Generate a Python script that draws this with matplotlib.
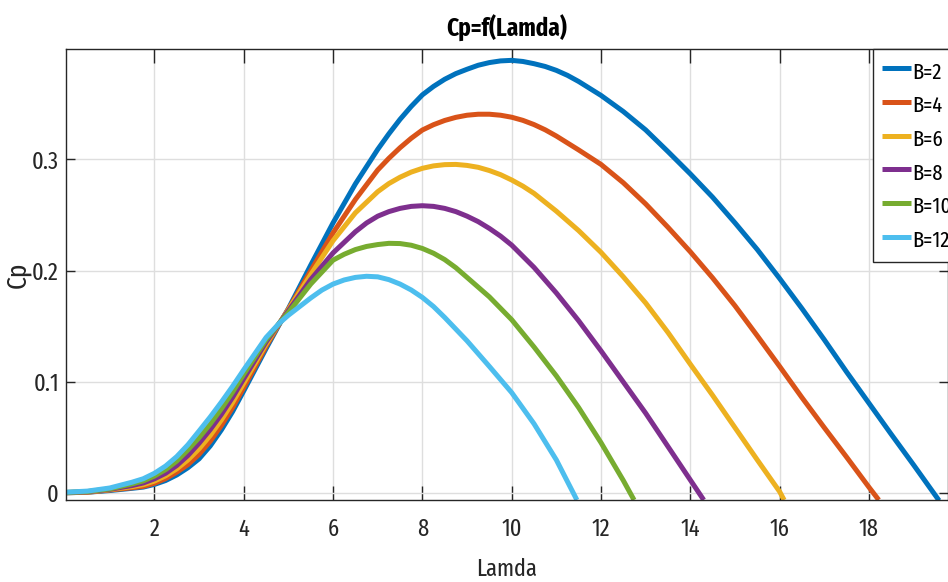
import matplotlib
matplotlib.use("Agg")
import matplotlib.pyplot as plt
from matplotlib import font_manager as fm

# lambda values (x) and Cp values, one pair of lists per blade count
lam_b2 = [0.02, 0.5, 1, 1.5, 1.75, 2, 2.25, 2.5, 2.75, 3, 3.25, 3.5, 3.75, 4, 4.5, 4.8, 5, 5.5,
          6, 6.5, 7, 7.25, 7.5, 7.75, 8, 8.25, 8.5, 8.75, 9, 9.25, 9.5, 9.75, 10, 10.25, 10.5,
          10.75, 11, 11.25, 11.5, 12, 12.5, 13, 13.5, 14, 14.5, 15, 15.5, 16, 16.5, 17, 17.5,
          18, 18.5, 19, 19.57]
cp_b2 = [0.0005, 0.001, 0.0025, 0.0045, 0.0056, 0.008, 0.0115, 0.0165, 0.023, 0.031, 0.0426,
         0.057, 0.0734, 0.092, 0.130, 0.152, 0.166, 0.205, 0.243, 0.278, 0.309, 0.323, 0.336,
         0.3476, 0.358, 0.3656, 0.372, 0.3771, 0.381, 0.3846, 0.387, 0.3885, 0.389, 0.388, 0.386,
         0.3835, 0.380, 0.3755, 0.370, 0.3575, 0.343, 0.3265, 0.307, 0.287, 0.266, 0.243, 0.219,
         0.193, 0.166, 0.138, 0.109, 0.081, 0.053, 0.0255, -0.0065]

lam_b4 = [0.02, 0.5, 1, 1.5, 1.75, 2, 2.25, 2.5, 2.75, 3, 3.25, 3.5, 3.75, 4, 4.5, 4.8, 5, 5.5,
          6, 6.5, 7, 7.25, 7.5, 7.75, 8, 8.25, 8.5, 8.75, 9, 9.25, 9.5, 9.75, 10, 10.25, 10.5,
          10.75, 11, 11.5, 12, 12.5, 13, 13.5, 14, 14.5, 15, 15.5, 16, 16.5, 17, 17.5, 18, 18.22]
cp_b4 = [0.0005, 0.001, 0.003, 0.005, 0.0062, 0.009, 0.0132, 0.019, 0.0258, 0.035, 0.0468,
         0.061, 0.077, 0.095, 0.132, 0.1525, 0.1655, 0.200, 0.234, 0.264, 0.2905, 0.301, 0.3105,
         0.319, 0.3264, 0.3312, 0.335, 0.3378, 0.3397, 0.3406, 0.3406, 0.3397, 0.3379, 0.3351,
         0.3313, 0.3266, 0.321, 0.3085, 0.2955, 0.279, 0.260, 0.239, 0.217, 0.1935, 0.1685,
         0.1415, 0.114, 0.086, 0.059, 0.0325, 0.0055, -0.006]

lam_b6 = [0.02, 0.5, 1, 1.5, 1.75, 2, 2.25, 2.5, 2.75, 3, 3.25, 3.5, 3.75, 4, 4.5, 4.8, 5, 5.5,
          6, 6.5, 7, 7.25, 7.5, 7.75, 8, 8.25, 8.5, 8.75, 9, 9.25, 9.5, 9.75, 10, 10.25, 10.5,
          11, 11.5, 12, 12.5, 13, 13.5, 14, 14.5, 15, 15.5, 16, 16.1]
cp_b6 = [0.0006, 0.0012, 0.0033, 0.006, 0.0078, 0.011, 0.0157, 0.022, 0.030, 0.040, 0.052,
         0.066, 0.0816, 0.099, 0.134, 0.153, 0.165, 0.1965, 0.227, 0.252, 0.271, 0.2783, 0.284,
         0.2886, 0.292, 0.2942, 0.2953, 0.2955, 0.2946, 0.2929, 0.290, 0.2863, 0.2815, 0.276,
         0.2695, 0.2535, 0.236, 0.2165, 0.1945, 0.171, 0.1445, 0.116, 0.088, 0.059, 0.030,
         0.0015, -0.006]

lam_b8 = [0.02, 0.5, 1, 1.5, 1.75, 2, 2.25, 2.5, 2.75, 3, 3.25, 3.5, 3.75, 4, 4.5, 4.8, 5, 5.5,
          6, 6.5, 6.75, 7, 7.25, 7.5, 7.75, 8, 8.25, 8.5, 8.75, 9, 9.25, 9.5, 9.75, 10, 10.5, 11,
          11.5, 12, 12.5, 13, 13.5, 14, 14.3]
cp_b8 = [0.0007, 0.0014, 0.0036, 0.007, 0.0093, 0.013, 0.018, 0.025, 0.034, 0.045, 0.0573,
         0.071, 0.0862, 0.103, 0.136, 0.153, 0.164, 0.192, 0.216, 0.235, 0.2429, 0.249, 0.2531,
         0.256, 0.2578, 0.2584, 0.2578, 0.256, 0.2531, 0.249, 0.2441, 0.238, 0.2311, 0.223,
         0.203, 0.180, 0.155, 0.128, 0.100, 0.072, 0.042, 0.012, -0.006]

lam_b10 = [0.02, 0.5, 1, 1.5, 1.75, 2, 2.25, 2.5, 2.75, 3, 3.25, 3.5, 3.75, 4, 4.5, 4.8, 5, 5.5,
           6, 6.25, 6.5, 6.75, 7, 7.25, 7.5, 7.75, 8, 8.25, 8.5, 8.75, 9, 9.5, 10, 10.5, 11,
           11.5, 12, 12.5, 12.74]
cp_b10 = [0.0008, 0.0016, 0.004, 0.0085, 0.0112, 0.0155, 0.0213, 0.029, 0.039, 0.050, 0.0624,
          0.076, 0.0909, 0.107, 0.138, 0.153, 0.1625, 0.188, 0.2095, 0.2148, 0.219, 0.2218,
          0.2235, 0.2246, 0.2244, 0.2229, 0.220, 0.2157, 0.210, 0.2027, 0.194, 0.1765, 0.156,
          0.1315, 0.1055, 0.077, 0.0455, 0.0115, -0.006]

lam_b12 = [0.02, 0.5, 1, 1.5, 1.75, 2, 2.25, 2.5, 2.75, 3, 3.25, 3.5, 3.75, 4, 4.5, 4.8, 5, 5.5,
           5.75, 6, 6.25, 6.5, 6.75, 7, 7.25, 7.5, 7.75, 8, 8.25, 8.5, 9, 9.5, 10, 10.5, 11,
           11.46]
cp_b12 = [0.001, 0.002, 0.0048, 0.010, 0.0131, 0.018, 0.0245, 0.033, 0.0436, 0.056, 0.0686,
          0.082, 0.0961, 0.111, 0.140, 0.153, 0.160, 0.1755, 0.1826, 0.188, 0.1917, 0.194, 0.195,
          0.1945, 0.192, 0.188, 0.1827, 0.176, 0.1678, 0.158, 0.137, 0.114, 0.0905, 0.0625,
          0.030, -0.006]

labels = ["B=2", "B=4", "B=6", "B=8", "B=10", "B=12"]
colors = ["#0072BD", "#D95319", "#EDB120", "#7E2F8E", "#77AC30", "#4DBEEE"]

x_ticks = [2, 4, 6, 8, 10, 12, 14, 16, 18]
y_ticks = [0, 0.1, 0.2, 0.3]
y_tick_labels = ["0", "0.1", "0.2", "0.3"]


# the reference text is narrow (squeezed MATLAB Helvetica): look for a condensed face
def narrow_font(bold):
    prefs = ["extracondensed", "narrow", "condensed"]
    found = {}
    for f in fm.fontManager.ttflist:
        path = f.fname.lower().replace("-", "").replace("_", "")
        if "mono" in path or "serif" in path or f.style != "normal":
            continue
        if "semi" in path or "ultra" in path:
            continue
        is_bold = f.weight in ("bold", 700)
        if bold != is_bold:
            continue
        if not bold and f.weight not in ("normal", "regular", 400):
            continue
        for p in prefs:
            if p in path and p not in found:
                found[p] = f.fname
                break
    for p in prefs:
        if p in found:
            return fm.FontProperties(fname=found[p])
    return fm.FontProperties(family=["Liberation Sans", "DejaVu Sans"],
                             weight="bold" if bold else "normal")


reg = narrow_font(False)
bld = narrow_font(True)


def fp(base, size):
    p = base.copy()
    p.set_size(size)
    return p


fig = plt.figure(figsize=(9.48, 5.82), dpi=100)
ax = fig.add_axes([66 / 948, 82 / 582, 882 / 948, 451 / 582])

series = [(lam_b2, cp_b2), (lam_b4, cp_b4), (lam_b6, cp_b6),
          (lam_b8, cp_b8), (lam_b10, cp_b10), (lam_b12, cp_b12)]
for (lam, cp), lab, col in zip(series, labels, colors):
    ax.plot(lam, cp, color=col, lw=3.6, label=lab,
            solid_capstyle="butt", solid_joinstyle="round")

ax.set_xlim(0.02, 19.77)
ax.set_ylim(-0.006, 0.3992)
ax.set_xticks(x_ticks)
ax.set_yticks(y_ticks)
ax.set_yticklabels(y_tick_labels)

ax.grid(True, color="#dedede", lw=1.0)
ax.set_axisbelow(True)
for s in ax.spines.values():
    s.set_color("#262626")
    s.set_linewidth(1.0)

ax.tick_params(axis="x", direction="in", length=10, width=1, top=True,
               pad=13, colors="#262626")
ax.tick_params(axis="y", direction="in", length=6.5, width=1, right=True,
               pad=5, colors="#262626")
for t in ax.get_xticklabels() + ax.get_yticklabels():
    t.set_fontproperties(fp(reg, 17.5))

ax.set_xlabel("Lamda", fontproperties=fp(reg, 17.5), color="#262626")
ax.xaxis.set_label_coords(0.5, (500 - 558) / 451)
ax.set_ylabel("Cp", fontproperties=fp(reg, 20), color="#262626")
ax.yaxis.set_label_coords((31 - 66) / 882, 0.5)
ax.set_title("Cp=f(Lamda)", fontproperties=fp(bld, 18), pad=9)

leg = ax.legend(loc="upper left", bbox_to_anchor=((873 - 66) / 882, 1.0),
                borderaxespad=0, prop=fp(reg, 16), handlelength=1.3, handleheight=1.4,
                handletextpad=0.05, labelspacing=0.36, borderpad=0.42,
                fancybox=False, framealpha=1)
leg.get_frame().set_edgecolor("#262626")
leg.get_frame().set_linewidth(1.0)

fig.savefig("out.png", dpi=100)
